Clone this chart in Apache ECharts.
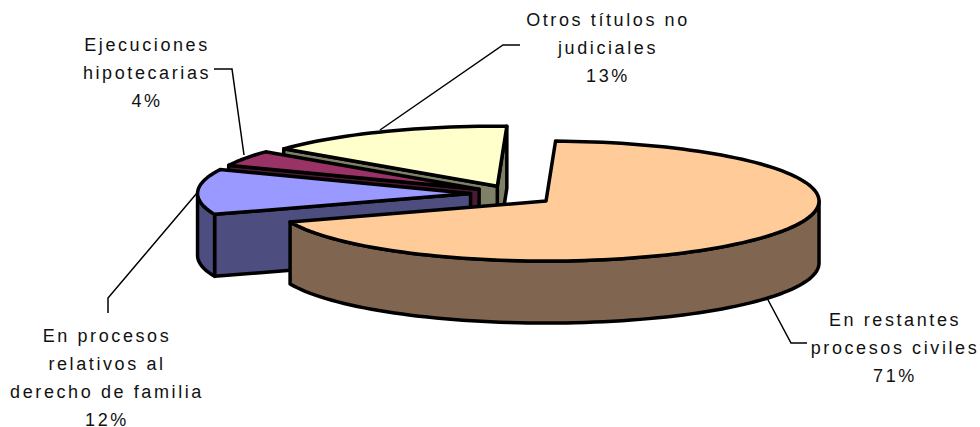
<!DOCTYPE html>
<html>
<head>
<meta charset="utf-8">
<style>
  html, body { margin: 0; padding: 0; background: #fff; }
  #chart { width: 980px; height: 427px; }
  #chart text { letter-spacing: 2.6px; }
</style>
<script src="https://cdn.jsdelivr.net/npm/echarts@6/dist/echarts.min.js"></script>
</head>
<body>
<div id="chart"></div>
<script>
const categories = ['En restantes\nprocesos civiles', 'En procesos\nrelativos al\nderecho de familia', 'Ejecuciones\nhipotecarias', 'Otros títulos no\njudiciales'];
const percents = [71, 12, 4, 13];
const topColors = ['#FFCC99', '#9999FF', '#993366', '#FFFFCC'];
const sideColors = ['#806650', '#4D4D80', '#4D1A33', '#808066'];

// pie geometry, squashed ellipse + extruded wall
const center = [513, 195];
const rx = 273, ry = 60, depth = 62, explode = 43, startAngle = 2;
const rad = Math.PI / 180;

// label centres and leader lines
const labelPos = [[895, 306], [107, 322], [147, 31], [608, 6]];
const leaders = [
  [[767, 298], [791, 343], [807, 343]],
  [[197, 193], [108, 298], [108, 313]],
  [[244, 155], [232, 69], [214, 69]],
  [[380, 130], [503, 45], [520, 45]]
];

const total = percents.reduce((a, b) => a + b, 0);
let acc = startAngle;
const slices = percents.map((v, i) => {
  const from = acc;
  acc += v / total * 360;
  return { value: [i, from, acc], itemStyle: { color: topColors[i] } };
});

// the 3d view leans the rim on the far left side, pie is not a true ellipse there
function lean(a) {
  return a - 8 * (1 - Math.pow((a - 182) / 180, 6));
}
// angle is clockwise from the top of the ellipse
function pt(c, a, dy) {
  return [c[0] + rx * Math.sin(a * rad), c[1] - ry * Math.cos(a * rad) + (dy || 0)];
}
function arc(c, from, to, dy) {
  const pts = [];
  const n = Math.max(2, Math.ceil((to - from) / 2));
  for (let k = 0; k <= n; k++) pts.push(pt(c, from + (to - from) * k / n, dy));
  return pts;
}
function face(points, fill) {
  return {
    type: 'polygon',
    shape: { points: points },
    style: { fill: fill, stroke: '#000', lineWidth: 3.5, lineJoin: 'round' }
  };
}

function renderSlice(params, api) {
  const i = api.value(0), mid = (api.value(1) + api.value(2)) / 2;
  const from = lean(api.value(1)), to = lean(api.value(2));
  const c = [center[0] + explode * Math.sin(mid * rad), center[1] - explode * ry / rx * Math.cos(mid * rad)];
  const side = sideColors[i];
  const children = [];
  // radial walls, only those turned to the viewer
  if (Math.sin(to * rad) > 0) {
    children.push(face([c, pt(c, to), pt(c, to, depth), [c[0], c[1] + depth]], side));
  }
  if (Math.sin(from * rad) < 0) {
    children.push(face([c, pt(c, from), pt(c, from, depth), [c[0], c[1] + depth]], side));
  }
  // outer wall on the front half of the rim
  const a = Math.max(from, 90), b = Math.min(to, 270);
  if (b > a) {
    children.push(face(arc(c, a, b).concat(arc(c, a, b, depth).reverse()), side));
  }
  children.push(face([c].concat(arc(c, from, to)), topColors[i]));
  return { type: 'group', children: children };
}

// back slices first so the front ones paint over them
const drawOrder = [3, 2, 1, 0];

const chart = echarts.init(document.getElementById('chart'), null, { renderer: 'svg' });
chart.setOption({
  animation: false,
  backgroundColor: '#fff',
  series: [{
    type: 'custom',
    coordinateSystem: 'none',
    renderItem: renderSlice,
    silent: true,
    data: drawOrder.map(i => slices[i])
  }],
  graphic: leaders.map(points => ({
    type: 'polyline',
    shape: { points: points },
    style: { stroke: '#000', lineWidth: 1.5, fill: null }
  })).concat(categories.map((name, i) => ({
    type: 'text',
    x: labelPos[i][0],
    y: labelPos[i][1],
    style: {
      text: name + '\n' + percents[i] + '%',
      font: '18px "Liberation Sans", Arial, sans-serif',
      fill: '#111',
      align: 'center',
      verticalAlign: 'top',
      lineHeight: 28
    }
  })))
});
</script>
</body>
</html>
